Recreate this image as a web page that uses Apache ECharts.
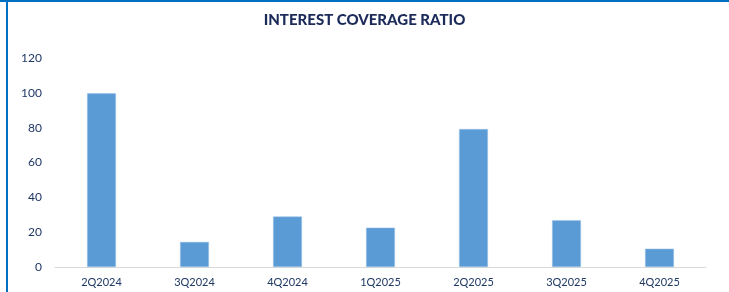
<!DOCTYPE html>
<html>
<head>
<meta charset="utf-8">
<script src="https://cdn.jsdelivr.net/npm/echarts@6/dist/echarts.min.js"></script>
<style>
html, body { margin: 0; padding: 0; background: #fff; }
#main { width: 729px; height: 292px; }
</style>
</head>
<body>
<div id="main"></div>
<script>
"use strict";
// data
let quarters = ['2Q2024', '3Q2024', '4Q2024', '1Q2025', '2Q2025', '3Q2025', '4Q2025'];
let coverage = [99.7, 14.4, 29.0, 22.6, 79.2, 26.8, 10.5];
let yTicks = [0, 20, 40, 60, 80, 100, 120];

let myChart = echarts.init(document.getElementById('main'));
let navy = '#1f3864';
let option = {
    backgroundColor: '#fff',
    animation: false,
    textStyle: { fontFamily: 'Lato' },
    title: {
        text: 'INTEREST COVERAGE RATIO',
        left: 'center',
        top: 8,
        textStyle: { fontFamily: 'Lato', fontSize: 15, fontWeight: 900, color: '#1c2b5a' }
    },
    graphic: [
        { type: 'rect', shape: { x: 0, y: 0, width: 729, height: 2 }, style: { fill: '#0070c0' } },
        { type: 'rect', shape: { x: 6, y: 0, width: 2, height: 292 }, style: { fill: '#0070c0' } }
    ],
    grid: { left: 55, right: 23, top: 58, bottom: 25 },
    xAxis: {
        type: 'category',
        data: quarters,
        axisLine: { lineStyle: { color: '#d9d9d9', width: 1 } },
        axisTick: { show: false },
        axisLabel: { color: navy, fontSize: 11, margin: 10 }
    },
    yAxis: {
        type: 'value',
        min: yTicks[0],
        max: yTicks[yTicks.length - 1],
        interval: 20,
        splitLine: { show: false },
        axisLine: { show: false },
        axisTick: { show: false },
        axisLabel: { color: navy, fontSize: 12, margin: 13 }
    },
    series: [{
        type: 'bar',
        data: coverage,
        barWidth: '31%',
        itemStyle: { color: '#5b9bd5', borderColor: '#9dc3e6', borderWidth: 0.5 }
    }]
};
myChart.setOption(option);
</script>
</body>
</html>
